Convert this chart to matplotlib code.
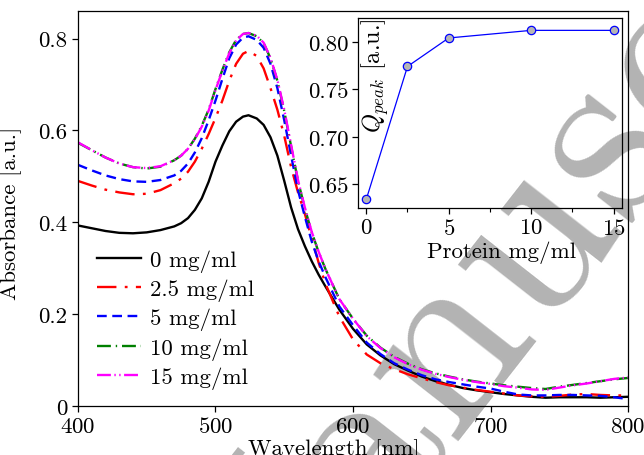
import numpy as np
import matplotlib
matplotlib.use("Agg")
import matplotlib.pyplot as plt
from matplotlib.ticker import MultipleLocator, FuncFormatter

plt.rcParams['font.family'] = 'serif'
plt.rcParams['font.serif'] = ['cmr10']
plt.rcParams['mathtext.fontset'] = 'cm'
plt.rcParams['axes.formatter.use_mathtext'] = True
plt.rcParams['lines.scale_dashes'] = False

# spectra
wl = [400, 410, 420, 430, 440, 450, 460, 470, 475, 480, 485, 490, 495, 500, 505, 510, 515,
      520, 524, 530, 535, 540, 545, 550, 555, 560, 565, 570, 575, 580, 590, 600,
      610, 620, 630, 640, 650, 660, 670, 680, 690, 700, 710, 720, 730, 740, 750,
      760, 770, 780, 790, 800]

abs_0 = [0.393, 0.387, 0.381, 0.377, 0.376, 0.378, 0.383, 0.391, 0.398, 0.409, 0.427, 0.452, 0.488,
         0.532, 0.567, 0.598, 0.619, 0.630, 0.633, 0.626, 0.612, 0.585, 0.545, 0.490,
         0.432, 0.385, 0.348, 0.315, 0.286, 0.260, 0.210, 0.168, 0.134, 0.110, 0.091,
         0.077, 0.064, 0.054, 0.046, 0.039, 0.034, 0.030, 0.026, 0.023, 0.020, 0.018,
         0.019, 0.019, 0.019, 0.018, 0.019, 0.020]
abs_25 = [0.490, 0.480, 0.471, 0.465, 0.461, 0.462, 0.470, 0.485, 0.495, 0.510, 0.532, 0.560, 0.592,
          0.627, 0.665, 0.708, 0.745, 0.767, 0.773, 0.762, 0.735, 0.692, 0.645, 0.588,
          0.520, 0.465, 0.418, 0.365, 0.312, 0.266, 0.195, 0.145, 0.112, 0.093, 0.080,
          0.069, 0.060, 0.052, 0.045, 0.040, 0.035, 0.031, 0.027, 0.023, 0.021, 0.020,
          0.022, 0.025, 0.026, 0.024, 0.023, 0.023]
abs_5 = [0.525, 0.513, 0.502, 0.494, 0.489, 0.488, 0.492, 0.502, 0.512, 0.528, 0.552, 0.583, 0.622,
         0.665, 0.712, 0.757, 0.787, 0.802, 0.805, 0.797, 0.780, 0.745, 0.692, 0.622,
         0.545, 0.470, 0.412, 0.358, 0.315, 0.280, 0.217, 0.176, 0.138, 0.113, 0.093,
         0.079, 0.067, 0.058, 0.052, 0.047, 0.042, 0.038, 0.031, 0.025, 0.023, 0.023,
         0.024, 0.024, 0.023, 0.022, 0.019, 0.015]
abs_10 = [0.573, 0.557, 0.541, 0.528, 0.520, 0.517, 0.521, 0.535, 0.545, 0.560, 0.582, 0.610, 0.645,
          0.690, 0.732, 0.770, 0.797, 0.810, 0.812, 0.805, 0.790, 0.757, 0.708, 0.642,
          0.565, 0.490, 0.430, 0.378, 0.335, 0.298, 0.233, 0.190, 0.153, 0.127, 0.107,
          0.092, 0.080, 0.071, 0.064, 0.058, 0.053, 0.049, 0.045, 0.042, 0.039, 0.037,
          0.042, 0.046, 0.050, 0.054, 0.058, 0.061]
abs_15 = [0.574, 0.557, 0.541, 0.528, 0.520, 0.518, 0.522, 0.535, 0.545, 0.560, 0.581, 0.608, 0.643,
          0.688, 0.730, 0.768, 0.796, 0.810, 0.812, 0.806, 0.791, 0.758, 0.710, 0.645,
          0.568, 0.492, 0.432, 0.379, 0.336, 0.298, 0.233, 0.190, 0.152, 0.126, 0.106,
          0.091, 0.079, 0.070, 0.063, 0.057, 0.052, 0.048, 0.043, 0.040, 0.036, 0.035,
          0.040, 0.045, 0.049, 0.054, 0.059, 0.062]

labels = ['0 mg/ml', '2.5 mg/ml', '5 mg/ml', '10 mg/ml', '15 mg/ml']

# peak values vs protein concentration (inset)
protein = [0, 2.5, 5, 10, 15]
q_peak = [0.634, 0.774, 0.804, 0.812, 0.812]

fig = plt.figure(figsize=(6.44, 4.56), dpi=100)
fig.patch.set_facecolor('white')

# watermark in the background
fig.text(0.362, -0.575, 'Manuscript', fontsize=180, color='#b3b3b3',
         rotation=52, rotation_mode='anchor', ha='left', va='baseline', zorder=-5)

ax = fig.add_axes([0.1211, 0.1075, 0.8541, 0.8662])
ax.set_facecolor('none')

styles = [
    dict(color='black', linestyle='-'),
    dict(color='red', dashes=(14, 6, 2, 6)),
    dict(color='blue', dashes=(7, 4)),
    dict(color='green', dashes=(10, 3.5, 1, 3.5)),
    dict(color='magenta', dashes=(10, 2.5, 1, 2.5, 1, 2.5)),
]
series = [abs_0, abs_25, abs_5, abs_10, abs_15]
for y, lab, st in zip(series, labels, styles):
    ax.plot(wl, y, lw=1.7, label=lab, **st)

ax.set_xlim(400, 800)
ax.set_ylim(0, 0.86)
ax.set_xticks([400, 500, 600, 700, 800])
ax.set_yticks([0, 0.2, 0.4, 0.6, 0.8])
ax.yaxis.set_major_formatter(FuncFormatter(lambda v, p: '%g' % v))
ax.tick_params(direction='out', length=4, width=0.9, labelsize=16.5,
               top=False, right=False)
for s in ax.spines.values():
    s.set_linewidth(0.9)
ax.set_xlabel('Wavelength [nm]', fontsize=16.5)
ax.xaxis.set_label_coords(0.466, -0.082)
ax.set_ylabel('Absorbance [a.u.]', fontsize=16.5)
ax.yaxis.set_label_coords(-0.102, 0.49)

leg = ax.legend(loc='upper left', bbox_to_anchor=(0.035, 0.397), frameon=False,
                fontsize=16.5, handlelength=1.9, handletextpad=0.4,
                labelspacing=0.3, borderpad=0, borderaxespad=0)

# inset
ins = fig.add_axes([0.5559, 0.5417, 0.4099, 0.4166])
ins.set_facecolor('none')
ins.plot(protein, q_peak, color='blue', lw=0.9, marker='o', markersize=6,
         markerfacecolor='#b5b5b5', markeredgecolor='blue', markeredgewidth=0.9)
ins.set_xlim(-0.5, 15.5)
ins.set_ylim(0.625, 0.825)
ins.set_xticks([0, 5, 10, 15])
ins.xaxis.set_minor_locator(MultipleLocator(2.5))
ins.set_yticks([0.65, 0.70, 0.75, 0.80])
ins.yaxis.set_major_formatter(FuncFormatter(lambda v, p: '%.2f' % v))
ins.tick_params(direction='out', length=4, width=0.9, labelsize=16.5,
                top=False, right=False, pad=3)
ins.tick_params(which='minor', direction='out', length=3, width=0.8, top=False)
for s in ins.spines.values():
    s.set_linewidth(0.9)
ins.set_xlabel('Protein mg/ml', fontsize=16.5)
ins.xaxis.set_label_coords(0.545, -0.17)
ins.text(0.065, 0.70, r'$Q_{peak}$ [a.u.]', transform=ins.transAxes, rotation=90,
         ha='center', va='center', fontsize=17.5)

fig.savefig('out.png', dpi=100)
